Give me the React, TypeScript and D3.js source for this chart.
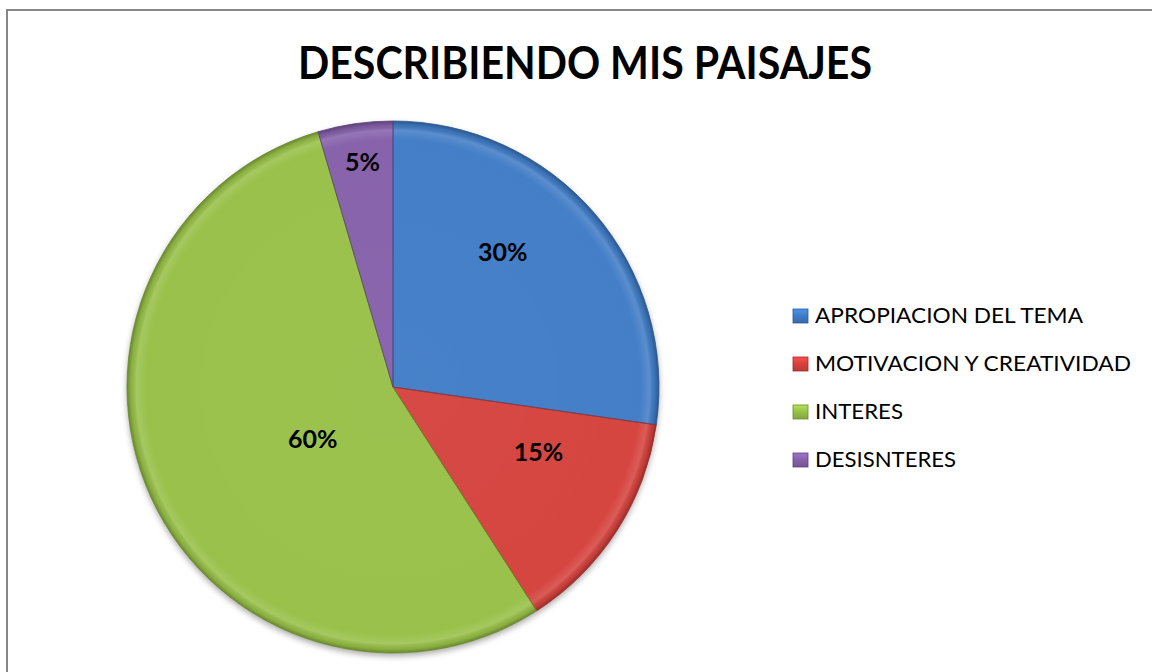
import React from "react";
import * as d3 from "d3";

const title = "DESCRIBIENDO MIS PAISAJES";
const categories = ["APROPIACION DEL TEMA", "MOTIVACION Y CREATIVIDAD", "INTERES", "DESISNTERES"];
const values = [30, 15, 60, 5];
const colors = ["#3f7bc6", "#d5423e", "#97c047", "#8561aa"];
const edgeColors = ["#2b5a94", "#9c2d2a", "#6a8b2c", "#5d4180"];

// label placement (angle shift in degrees from slice mid-angle, radius fraction)
const labelLayout = [
  { shift: -10, r: 0.655 },
  { shift: -8.5, r: 0.6 },
  { shift: -8.5, r: 0.36 },
  { shift: 0.5, r: 0.855 },
];
// measured legend text widths
const legendWidths = [268, 316, 88, 141];

const W = 1152;
const H = 672;
const cx = 393;
const cy = 387;
const R = 266;

export default function App() {
  const pie = d3.pie<number>().sort(null).value((d) => d)(values);
  const arc = d3.arc<d3.PieArcDatum<number>>().innerRadius(0).outerRadius(R);
  const legendY = d3.scaleLinear().domain([0, 3]).range([323, 467]);

  return (
    <svg width={W} height={H} style={{ position: "absolute", left: 0, top: 0 }}>
      <defs>
        <filter id="sh" x="-20%" y="-20%" width="140%" height="140%">
          <feGaussianBlur in="SourceAlpha" stdDeviation="3" />
          <feOffset dx="0" dy="3" result="b" />
          <feComponentTransfer>
            <feFuncA type="linear" slope="0.35" />
          </feComponentTransfer>
          <feMerge>
            <feMergeNode />
            <feMergeNode in="SourceGraphic" />
          </feMerge>
        </filter>
        <radialGradient id="rimLocal" cx={0} cy={0} r={R} gradientUnits="userSpaceOnUse">
          <stop offset="0" stopColor="#fff" stopOpacity="0.04" />
          <stop offset="0.93" stopColor="#fff" stopOpacity="0.02" />
          <stop offset="0.965" stopColor="#fff" stopOpacity="0.14" />
          <stop offset="0.985" stopColor="#000" stopOpacity="0.08" />
          <stop offset="1" stopColor="#000" stopOpacity="0.3" />
        </radialGradient>
        {colors.map((c, i) => (
          <linearGradient key={i} id={`lg${i}`} x1="0" y1="0" x2="0" y2="1">
            <stop offset="0" stopColor={d3.color(c)!.brighter(0.5).formatHex()} />
            <stop offset="0.5" stopColor={c} />
            <stop offset="1" stopColor={d3.color(c)!.darker(0.4).formatHex()} />
          </linearGradient>
        ))}
      </defs>
      <rect x={0} y={0} width={W} height={H} fill="#fff" />
      <rect x={7} y={10} width={W + 10} height={H + 10} fill="none" stroke="#878787" strokeWidth={2} />
      <text
        x={585}
        y={79}
        textAnchor="middle"
        fontFamily="Lato, 'Open Sans', sans-serif"
        fontWeight="bold"
        fontSize={45}
        textLength={574}
        lengthAdjust="spacingAndGlyphs"
        fill="#000"
      >
        {title}
      </text>
      <g transform={`translate(${cx},${cy})`}>
        <g filter="url(#sh)">
          {pie.map((p, i) => (
            <path key={i} d={arc(p) || ""} fill={colors[i]} />
          ))}
        </g>
        {pie.map((p, i) => (
          <path key={"g" + i} d={arc(p) || ""} fill="url(#rimLocal)" stroke={edgeColors[i]} strokeWidth={1} strokeOpacity={0.8} />
        ))}
        {pie.map((p, i) => {
          const mid = (p.startAngle + p.endAngle) / 2 + (labelLayout[i].shift * Math.PI) / 180;
          const rr = R * labelLayout[i].r;
          const x = Math.sin(mid) * rr;
          const y = -Math.cos(mid) * rr;
          return (
            <text
              key={"t" + i}
              x={x}
              y={y}
              dy="0.36em"
              textAnchor="middle"
              fontFamily="Lato, 'Open Sans', sans-serif"
              fontWeight="bold"
              fontSize={25}
              fill="#000"
            >
              {`${values[i]}%`}
            </text>
          );
        })}
      </g>
      <g>
        {categories.map((c, i) => (
          <g key={c} transform={`translate(0,${legendY(i)})`}>
            <rect x={793} y={-14} width={15} height={14} fill={`url(#lg${i})`} stroke={edgeColors[i]} strokeWidth={0.8} />
            <text
              x={815}
              y={0}
              fontFamily="Lato, 'Open Sans', sans-serif"
              fontSize={22}
              textLength={legendWidths[i]}
              lengthAdjust="spacingAndGlyphs"
              fill="#000"
            >
              {c}
            </text>
          </g>
        ))}
      </g>
    </svg>
  );
}
